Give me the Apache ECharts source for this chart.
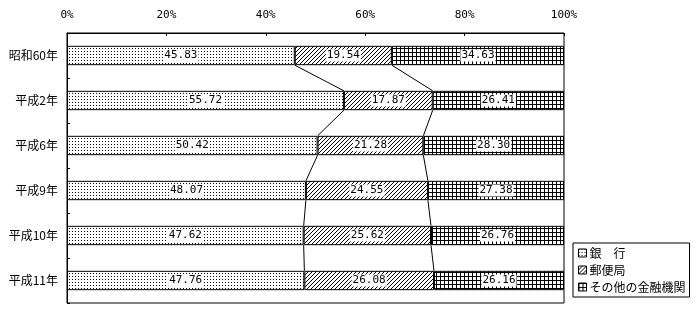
<!DOCTYPE html>
<html><head><meta charset="utf-8">
<script src="https://cdn.jsdelivr.net/npm/echarts@6/dist/echarts.min.js"></script>
<style>html,body{margin:0;padding:0;background:#fff}#c{width:699px;height:310px}</style>
</head><body><div id="c"></div>
<script>
const categories = ['昭和60年','平成2年','平成6年','平成9年','平成10年','平成11年'];
const seriesNames = ['銀　行','郵便局','その他の金融機関'];
const banks = [45.83, 55.72, 50.42, 48.07, 47.62, 47.76];
const post = [19.54, 17.87, 21.28, 24.55, 25.62, 26.08];
const others = [34.63, 26.41, 28.30, 27.38, 26.76, 26.16];

function pat(size, pixels){
  const c = document.createElement('canvas'); c.width = size; c.height = size;
  const g = c.getContext('2d'); g.fillStyle = '#fff'; g.fillRect(0,0,size,size);
  g.fillStyle = '#000'; pixels.forEach(p => g.fillRect(p[0], p[1], 1, 1));
  return {image: c, repeat: 'repeat'};
}
const dotPat = pat(3, [[0,0]]);
const hatchPat = pat(4, [[3,0],[2,1],[1,2],[0,3]]);
const gridPat = pat(4, [[0,0],[1,0],[2,0],[3,0],[0,1],[0,2],[0,3]]);

const FONT = 'Noto Sans CJK JP';
const MONO = 'DejaVu Sans Mono';
const BW = 0.43;

function barSeries(name, data, fill){
  return {
    name, type: 'bar', stack: 'all', data, barWidth: (BW*100)+'%',
    itemStyle: {color: fill, borderColor: '#000', borderWidth: 1},
    label: {show: true, position: 'inside', formatter: p => p.value.toFixed(2),
      color: '#000', backgroundColor: '#fff', fontFamily: MONO, fontSize: 11, padding: [1,1,0,1]},
    emphasis: {disabled: true}, animation: false
  };
}

const lineData = [];
for (let i = 0; i < categories.length - 1; i++) {
  lineData.push([i, banks[i], banks[i+1], banks[i]+post[i], banks[i+1]+post[i+1]]);
}

const chart = echarts.init(document.getElementById('c'));
chart.setOption({
  animation: false,
  grid: {left: 67, right: 135, top: 33, bottom: 7, show: true, borderColor: '#000', borderWidth: 1},
  xAxis: {type: 'value', position: 'top', min: 0, max: 100, interval: 20,
    axisLine: {show: true, lineStyle: {color: '#000'}},
    axisTick: {show: true, inside: true, length: 3, lineStyle: {color: '#000'}},
    axisLabel: {formatter: '{value}%', color: '#000', fontFamily: MONO, fontSize: 11, margin: 12},
    splitLine: {show: false}},
  yAxis: {type: 'category', inverse: true, data: categories,
    axisLine: {show: true, lineStyle: {color: '#000'}},
    axisTick: {show: true, inside: true, length: 3, lineStyle: {color: '#000'}},
    axisLabel: {color: '#000', fontFamily: FONT, fontSize: 12, margin: 9}},
  legend: {data: seriesNames, orient: 'vertical', left: 573, top: 243,
    borderColor: '#000', borderWidth: 1, borderRadius: 0, padding: [4, 4, 4, 5], itemGap: 5,
    itemWidth: 8, itemHeight: 8, icon: 'rect',
    itemStyle: {borderColor: '#000', borderWidth: 1},
    textStyle: {color: '#000', fontFamily: FONT, fontSize: 12, padding: [0,0,0,-2]}},
  series: [
    barSeries(seriesNames[0], banks, dotPat),
    barSeries(seriesNames[1], post, hatchPat),
    barSeries(seriesNames[2], others, gridPat),
    {type: 'custom', data: lineData, encode: {x: [1,2,3,4], y: 0}, silent: true, z: 5,
      renderItem: function(params, api){
        const i = api.value(0);
        const h = api.size([0, 1])[1] * BW / 2;
        const children = [];
        [[1,2],[3,4]].forEach(([a,b]) => {
          const p1 = api.coord([api.value(a), i]);
          const p2 = api.coord([api.value(b), i+1]);
          children.push({type: 'line', shape: {x1: p1[0], y1: p1[1]+h, x2: p2[0], y2: p2[1]-h},
            style: {stroke: '#000', lineWidth: 1}});
        });
        return {type: 'group', children};
      }}
  ]
});
</script></body></html>
